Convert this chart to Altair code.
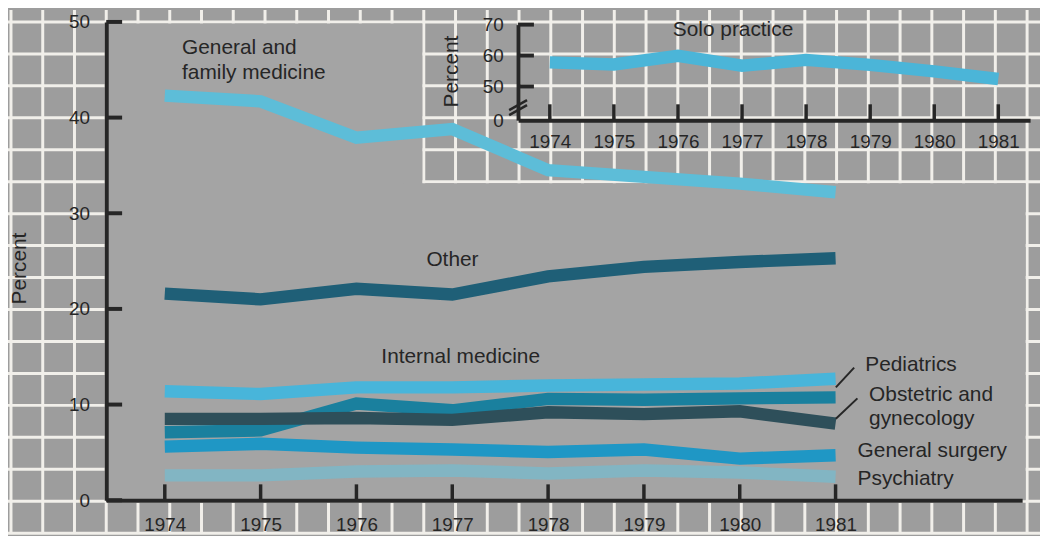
import altair as alt
import pandas as pd
import numpy as np

# ---------------- data ----------------
years = [1974, 1975, 1976, 1977, 1978, 1979, 1980, 1981]

general_family = [42.3, 41.7, 37.9, 38.8, 34.5, 33.8, 33.1, 32.2]
other = [21.6, 21.0, 22.1, 21.5, 23.4, 24.4, 24.9, 25.3]
internal_medicine = [11.4, 11.1, 11.8, 11.8, 12.0, 12.1, 12.2, 12.7]
pediatrics = [7.1, 7.3, 10.1, 9.4, 10.6, 10.5, 10.65, 10.75]
obstetric = [8.5, 8.5, 8.6, 8.4, 9.2, 9.0, 9.3, 8.0]
general_surgery = [5.6, 5.9, 5.5, 5.3, 5.05, 5.3, 4.35, 4.7]
psychiatry = [2.6, 2.6, 3.0, 3.1, 2.8, 3.1, 2.9, 2.45]
solo_practice = [57.8, 57.1, 59.9, 56.7, 58.6, 57.0, 54.9, 52.4]

main_y_ticks = [0, 10, 20, 30, 40, 50]
inset_y_ticks = [50, 60, 70]
inset_axis_bottom = 39.09  # foot of the broken inset axis, labelled "0"

# annotation texts (placed in data units)
main_label_text = ["General and", "family medicine", "Other", "Internal medicine",
                   "Pediatrics", "Obstetric and", "gynecology", "General surgery", "Psychiatry"]
main_label_year = [1974.18, 1974.18, 1976.73, 1976.26, 1981.31, 1981.35, 1981.35, 1981.23, 1981.23]
main_label_value = [47.3, 44.7, 25.1, 15.0, 14.1, 11.0, 8.45, 5.15, 2.2]

# ---------------- styles ----------------
INK = "#262626"
BG = "#9d9d9d"
PANEL = "#a4a4a4"
GRID = "#f1efea"
FONT = "Liberation Sans"

colors = {
    "Pediatrics": "#1a809e",
    "Psychiatry": "#82b5c3",
    "General surgery": "#1f97c5",
    "Obstetric and gynecology": "#2e4f5a",
    "Internal medicine": "#48b5da",
    "Other": "#1f5f77",
    "General and family medicine": "#5dbdd8",
}
series_values = {
    "Pediatrics": pediatrics,
    "Psychiatry": psychiatry,
    "General surgery": general_surgery,
    "Obstetric and gynecology": obstetric,
    "Internal medicine": internal_medicine,
    "Other": other,
    "General and family medicine": general_family,
}

W, H = 928, 482
LW = 12.5

# ---------------- decoration: graph-paper background ----------------
gx = pd.DataFrame({"gx": np.arange(-3, 30) * 32.0})
gy = pd.DataFrame({"gy": np.arange(0, 17) * 32.2})
grid_v = alt.Chart(gx).mark_rule(color=GRID, strokeWidth=3).encode(
    x=alt.X("gx:Q", scale=None, axis=None), y=alt.value(-12), y2=alt.value(H + 34))
grid_h = alt.Chart(gy).mark_rule(color=GRID, strokeWidth=3).encode(
    y=alt.Y("gy:Q", scale=None, axis=None), x=alt.value(-99), x2=alt.value(W + 13))
panel = pd.DataFrame({"x1": [0, 300], "x2": [318.5, 926.5],
                      "y1": [1.5, 162.5], "y2": [H, H]})
panel_rect = alt.Chart(panel).mark_rect(color=PANEL).encode(
    x=alt.X("x1:Q", scale=None, axis=None), x2="x2:Q",
    y=alt.Y("y1:Q", scale=None, axis=None), y2="y2:Q")
decor = alt.layer(grid_v, grid_h, panel_rect)

# ---------------- main chart ----------------
XM = alt.Scale(domain=[1973.389, 1982.947], range=[0, 923])
YM = alt.Scale(domain=[0, 50])

x_axis_main = alt.Axis(orient="bottom", values=years, format="d", ticks=False, tickSize=0,
                       labelPadding=16, labelFontSize=19, labelFlush=False, labelOverlap=False,
                       title=None, domainWidth=4, domainColor=INK, labelColor=INK, grid=False,
                       zindex=2)
y_axis_main = alt.Axis(orient="left", values=main_y_ticks, ticks=False, tickSize=0,
                       labelPadding=17, labelFontSize=19, title="Percent", titleFontSize=21,
                       titleFontWeight="normal", titleColor=INK, titleAngle=270,
                       titleX=-87.5, titleY=248, titleAlign="center", titleBaseline="middle",
                       domainWidth=4, domainColor=INK, labelColor=INK, grid=False, zindex=2)

main_layers = []
first = True
for name, vals in series_values.items():
    df = pd.DataFrame({"year": years, "value": vals})
    if first:
        xe = alt.X("year:Q", scale=XM, axis=x_axis_main)
        ye = alt.Y("value:Q", scale=YM, axis=y_axis_main)
    else:
        xe = alt.X("year:Q", scale=XM)
        ye = alt.Y("value:Q", scale=YM)
    main_layers.append(
        alt.Chart(df).mark_line(color=colors[name], strokeWidth=LW, strokeCap="butt",
                                strokeJoin="miter").encode(x=xe, y=ye))
    first = False

ytick_main = alt.Chart(pd.DataFrame({"value": main_y_ticks})).mark_rule(
    color=INK, strokeWidth=4).encode(
    y=alt.Y("value:Q", scale=YM), x=alt.value(0), x2=alt.value(16))
xtick_main = alt.Chart(pd.DataFrame({"year": years})).mark_rule(
    color=INK, strokeWidth=3.5).encode(
    x=alt.X("year:Q", scale=XM), y=alt.value(H), y2=alt.value(H - 16))

labels_df = pd.DataFrame({"year": main_label_year, "value": main_label_value,
                          "text": main_label_text})
labels_main = alt.Chart(labels_df).mark_text(
    align="left", baseline="middle", fontSize=21, color=INK, font=FONT).encode(
    x=alt.X("year:Q", scale=XM), y=alt.Y("value:Q", scale=YM), text="text:N")

leaders_df = pd.DataFrame({"year": [1981.194, 1981.228], "year2": [1981.003, 1981.003],
                           "value": [13.87, 10.65], "value2": [11.80, 8.51]})
leaders = alt.Chart(leaders_df).mark_rule(color=INK, strokeWidth=2).encode(
    x=alt.X("year:Q", scale=XM), x2="year2:Q",
    y=alt.Y("value:Q", scale=YM), y2="value2:Q")

main = alt.layer(*main_layers, ytick_main, xtick_main, leaders, labels_main)

# ---------------- inset: solo practice ----------------
XI = alt.Scale(domain=[1973.504, 1981.496], range=[415, 931])
YI = alt.Scale(domain=[inset_axis_bottom, 70], range=[99, 2.7])

x_axis_in = alt.Axis(orient="bottom", offset=-383, values=years, format="d", ticks=False,
                     tickSize=0, labelPadding=13, labelFontSize=19, labelFlush=False,
                     labelOverlap=False, title=None, domainWidth=4, domainColor=INK,
                     labelColor=INK, grid=False, zindex=2)
y_axis_in = alt.Axis(orient="left", offset=-415, values=[inset_axis_bottom] + inset_y_ticks,
                     labelExpr="datum.value < 45 ? '0' : datum.label", ticks=False, tickSize=0,
                     labelPadding=15, labelFontSize=19, title="Percent", titleFontSize=21,
                     titleFontWeight="normal", titleColor=INK, titleAngle=270, titleX=-67,
                     titleY=49.5, titleAlign="center", titleBaseline="middle",
                     domainWidth=4, domainColor=INK, labelColor=INK, grid=False, zindex=2)

solo_df = pd.DataFrame({"year": years, "value": solo_practice})
solo_line = alt.Chart(solo_df).mark_line(color="#4bb5d8", strokeWidth=LW, strokeCap="butt").encode(
    x=alt.X("year:Q", scale=XI, axis=x_axis_in),
    y=alt.Y("value:Q", scale=YI, axis=y_axis_in))
ytick_in = alt.Chart(pd.DataFrame({"value": inset_y_ticks})).mark_rule(
    color=INK, strokeWidth=4).encode(
    y=alt.Y("value:Q", scale=YI), x=alt.value(415), x2=alt.value(431))
xtick_in = alt.Chart(pd.DataFrame({"year": years})).mark_rule(
    color=INK, strokeWidth=3.5).encode(
    x=alt.X("year:Q", scale=XI), y=alt.value(99), y2=alt.value(83))
break_df = pd.DataFrame({"year": [1973.365, 1973.365], "year2": [1973.644, 1973.644],
                         "value": [42.34, 40.74], "value2": [45.55, 43.95]})
breaks = alt.Chart(break_df).mark_rule(color=INK, strokeWidth=2.5).encode(
    x=alt.X("year:Q", scale=XI), x2="year2:Q",
    y=alt.Y("value:Q", scale=YI), y2="value2:Q")
solo_label = alt.Chart(pd.DataFrame({"year": [1975.92], "value": [68.35],
                                     "text": ["Solo practice"]})).mark_text(
    align="left", baseline="middle", fontSize=21, color=INK, font=FONT).encode(
    x=alt.X("year:Q", scale=XI), y=alt.Y("value:Q", scale=YI), text="text:N")

inset = alt.layer(solo_line, ytick_in, xtick_in, breaks, solo_label)

chart = alt.layer(decor, main, inset).resolve_scale(
    x="independent", y="independent").resolve_axis(
    x="independent", y="independent").properties(
    width=W, height=H,
    autosize=alt.AutoSizeParams(type="none"),
    padding={"left": 99, "top": 12, "right": 13, "bottom": 34},
    background=BG,
).configure_view(stroke=None).configure_axis(
    labelFont=FONT, titleFont=FONT)

chart.save("out.html", embed_options={"renderer": "svg", "actions": False})
